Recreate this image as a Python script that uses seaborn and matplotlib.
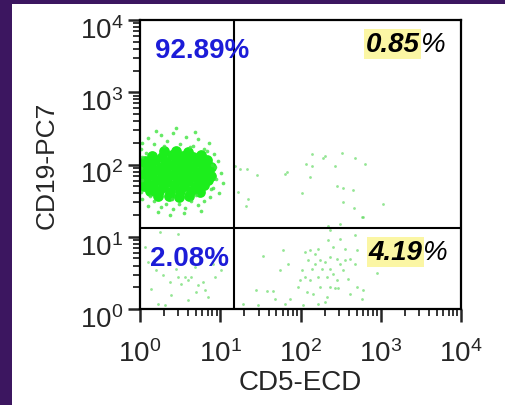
import numpy as np
import pandas as pd
import matplotlib
matplotlib.use('Agg')
import matplotlib.pyplot as plt
import seaborn as sns
from matplotlib.patches import Rectangle
from matplotlib.ticker import LogLocator
from matplotlib.transforms import ScaledTranslation

# values are log10 intensities
core_cd5 = [0.30, 0.45, 0.60,
            0.15, 0.27, 0.40, 0.53, 0.66, 0.76,
            0.06, 0.19, 0.33, 0.46, 0.59, 0.72, 0.84,
            0.04, 0.13, 0.26, 0.39, 0.52, 0.65, 0.78, 0.88,
            0.07, 0.20, 0.33, 0.46, 0.59, 0.72, 0.84,
            0.03, 0.14, 0.27, 0.40, 0.53, 0.66, 0.79, 0.89,
            0.08, 0.21, 0.34, 0.47, 0.60, 0.73, 0.85,
            0.05, 0.16, 0.29, 0.42, 0.55, 0.68, 0.80,
            0.12, 0.24, 0.37, 0.50, 0.63, 0.75,
            0.22, 0.36, 0.49, 0.61]
core_cd19 = [2.18, 2.19, 2.17,
             2.12, 2.11, 2.13, 2.12, 2.11, 2.13,
             2.05, 2.06, 2.04, 2.06, 2.05, 2.04, 2.06,
             1.98, 1.99, 1.97, 1.99, 1.98, 1.97, 1.99, 1.97,
             1.91, 1.92, 1.90, 1.92, 1.91, 1.90, 1.92,
             1.84, 1.85, 1.83, 1.85, 1.84, 1.83, 1.85, 1.84,
             1.77, 1.78, 1.76, 1.78, 1.77, 1.76, 1.78,
             1.70, 1.71, 1.69, 1.71, 1.70, 1.69, 1.71,
             1.63, 1.64, 1.62, 1.64, 1.63, 1.62,
             1.56, 1.57, 1.55, 1.56]

halo_cd5 = [0.02, 0.10, 0.18, 0.26, 0.34, 0.41, 0.50, 0.57, 0.66, 0.72, 0.80, 0.86,
            0.92, 0.97, 0.94, 1.01, 0.95, 1.04, 0.91, 0.98, 0.87,
            0.80, 0.72, 0.64, 0.56, 0.48, 0.41, 0.33, 0.26, 0.18, 0.10, 0.03,
            0.01, 0.02, 0.01, 0.02, 0.01,
            0.30, 0.62, 0.84, 0.90, 0.88, 0.70, 0.40, 0.12, 0.08,
            0.55, 0.38, 0.22, 0.76, 0.45, 0.20, 0.68]
halo_cd19 = [2.30, 2.36, 2.28, 2.41, 2.32, 2.44, 2.29, 2.38, 2.26, 2.35, 2.22, 2.30,
             2.15, 2.05, 1.96, 1.88, 1.80, 1.74, 1.68, 1.60, 1.55,
             1.50, 1.44, 1.49, 1.40, 1.46, 1.38, 1.45, 1.41, 1.49, 1.43, 1.52,
             2.22, 2.10, 1.95, 1.78, 1.62,
             2.25, 2.24, 2.18, 2.00, 1.66, 1.58, 1.52, 1.57, 2.16,
             1.33, 1.30, 1.34, 1.36, 2.50, 2.47, 2.45]

# CD19+ CD5+ (upper right)
q2_cd5 = [1.18, 1.25, 1.33, 1.46, 1.81, 1.22, 1.32, 2.02, 2.14, 2.07, 2.14, 2.12,
          2.28, 2.52, 2.43, 2.45, 2.53, 2.65, 2.68, 2.80, 2.53, 2.67, 2.78, 2.34,
          2.49, 3.03, 2.77, 2.30, 1.83, 1.35]
q2_cd19 = [1.98, 1.94, 1.94, 1.86, 1.87, 1.62, 1.43, 1.61, 2.15, 2.01, 1.98, 1.83,
           2.09, 2.16, 1.98, 1.70, 1.67, 1.65, 2.09, 2.01, 1.48, 1.40, 1.27, 1.15,
           1.18, 1.45, 1.27, 2.12, 1.90, 1.52]

# CD19- CD5+ (lower right)
q4_cd5 = [1.53, 1.78, 1.84, 1.74, 1.45, 1.58, 1.66, 1.47, 1.87, 1.97, 2.02, 2.06,
          2.12, 2.18, 2.22, 2.09, 2.18, 2.24, 2.31, 2.37, 2.41, 2.34, 2.49, 2.55,
          2.62, 2.70, 2.68, 2.49, 2.53, 2.59, 2.41, 2.33, 2.22, 2.12, 2.06, 2.14,
          2.27, 2.37, 2.45, 2.37, 2.43, 2.47, 2.24, 2.16, 2.33, 2.31, 2.22, 1.99,
          2.08, 2.62, 2.70, 2.78, 2.77, 2.68, 2.37, 2.55, 2.45, 1.68, 1.28, 1.81,
          2.03, 2.95, 3.02]
q4_cd19 = [0.73, 0.82, 0.62, 0.54, 0.26, 0.25, 0.25, 0.06, 0.14, 0.30, 0.54, 0.79,
           0.82, 0.76, 0.83, 0.68, 0.62, 0.68, 0.65, 0.72, 0.86, 0.95, 0.97, 0.83,
           0.69, 0.82, 0.62, 0.62, 0.54, 0.42, 0.48, 0.44, 0.44, 0.40, 0.44, 0.55,
           0.55, 0.55, 0.40, 0.30, 0.29, 0.29, 0.30, 0.21, 0.17, 0.10, 0.07, 0.40,
           0.24, 0.21, 0.30, 0.26, 0.14, 1.02, 1.09, 0.68, 0.69, 0.14, 0.07, 0.07,
           0.06, 0.50, 0.85]

# CD19- CD5- (lower left)
q3_cd5 = [0.25, 0.47, 0.10, 0.20, 0.29, 0.37, 0.47, 0.56, 0.60, 0.64, 0.51, 0.72,
          0.79, 0.81, 0.70, 0.14, 0.85, 0.60, 0.93, 1.01, 0.39, 0.22, 0.45, 0.69,
          0.91, 0.06, 0.31]
q3_cd19 = [1.07, 1.04, 0.65, 0.54, 0.47, 0.37, 0.44, 0.44, 0.40, 0.44, 0.35, 0.33,
           0.37, 0.26, 0.24, 0.28, 0.17, 0.12, 0.44, 0.54, 0.19, 0.07, 0.55, 0.58,
           0.62, 0.86, 0.06]

gate_cd5 = 14.8
gate_cd19 = 13.2

pct_labels = ['92.89', '0.85', '2.08', '4.19']


def to_df(cd5, cd19):
    return pd.DataFrame({'CD5': 10 ** np.array(cd5), 'CD19': 10 ** np.array(cd19)})


sns.set_style('ticks')
plt.rcParams['font.family'] = ['Liberation Sans', 'DejaVu Sans']
plt.rcParams['axes.linewidth'] = 1.6

fig = plt.figure(figsize=(5.06, 4.06), dpi=100)
fig.patch.set_facecolor('#3c1660')
fig.patches.append(Rectangle((12 / 506, 0), 1, 1 - 5 / 406, transform=fig.transFigure,
                             facecolor='white', edgecolor='none', zorder=-5))
ax = fig.add_axes([140 / 506, 1 - 310 / 406, 321 / 506, 289 / 406])
ax.set_zorder(2)

green = '#1cee1c'
sns.scatterplot(data=to_df(core_cd5, core_cd19), x='CD5', y='CD19', ax=ax,
                color=green, s=60, linewidth=0, legend=False)
sns.scatterplot(data=to_df(halo_cd5, halo_cd19), x='CD5', y='CD19', ax=ax,
                color='#3fe43f', s=7, linewidth=0, alpha=0.8, legend=False)
for cd5, cd19 in [(q2_cd5, q2_cd19), (q4_cd5, q4_cd19), (q3_cd5, q3_cd19)]:
    sns.scatterplot(data=to_df(cd5, cd19), x='CD5', y='CD19', ax=ax,
                    color='#5cd85c', s=4, linewidth=0, alpha=0.65, legend=False)

ax.set_xscale('log')
ax.set_yscale('log')
ax.set_xlim(1, 1e4)
ax.set_ylim(1, 1e4)
for axis in (ax.xaxis, ax.yaxis):
    axis.set_major_locator(LogLocator(base=10, numticks=10))
    axis.set_minor_locator(LogLocator(base=10, subs=np.arange(2, 10), numticks=100))
ax.axvline(gate_cd5, color='black', lw=1.5)
ax.axhline(gate_cd19, color='black', lw=1.5)

ax.set_xlabel('CD5-ECD', fontsize=20, labelpad=1)
ax.set_ylabel('CD19-PC7', fontsize=19, labelpad=15)
ax.tick_params(which='major', labelsize=20, length=9, width=1.8)
ax.tick_params(axis='x', which='major', pad=13)
ax.tick_params(axis='y', which='major', pad=3)
ax.tick_params(which='minor', length=5, width=1.3)
for sp in ax.spines.values():
    sp.set_color('black')

shift = ScaledTranslation(0, -7 / 100, fig.dpi_scale_trans)
for lab in ax.get_yticklabels():
    lab.set_transform(lab.get_transform() + shift)

blue = '#1c1cd8'
ax.text(0.047, 0.872, pct_labels[0] + '%', transform=ax.transAxes, color=blue,
        fontsize=20, fontweight='bold', ha='left', va='baseline')
ax.text(0.031, 0.152, pct_labels[2] + '%', transform=ax.transAxes, color=blue,
        fontsize=20, fontweight='bold', ha='left', va='baseline')

for label, x, y in [(pct_labels[1], 0.703, 0.893), (pct_labels[3], 0.712, 0.173)]:
    t = ax.text(x, y, label, transform=ax.transAxes, color='black', fontsize=20,
                fontweight='bold', fontstyle='italic', ha='left', va='baseline',
                bbox=dict(facecolor='#fbf6a4', edgecolor='none', pad=1.5))
    ax.annotate('%', xy=(1, 0), xycoords=t, color='black', fontsize=20,
                fontstyle='italic', ha='left', va='bottom')

fig.savefig('out.png', dpi=100, facecolor=fig.get_facecolor())
